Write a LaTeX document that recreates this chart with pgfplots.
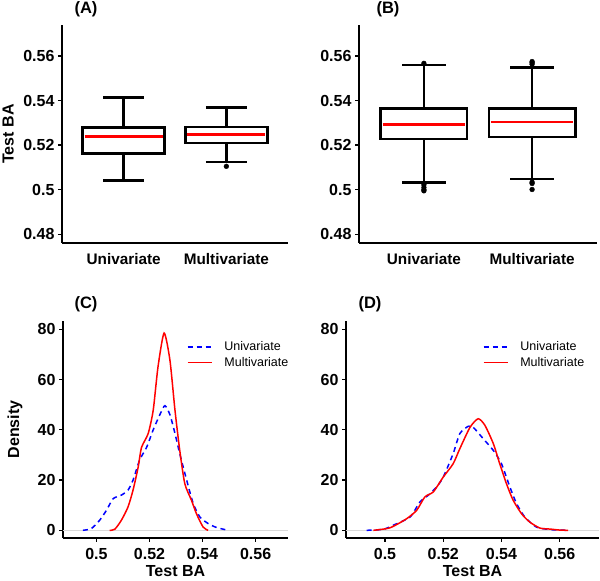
\documentclass[border=0pt]{standalone}
\usepackage{fontspec}
\setmainfont{Liberation Sans}
\usepackage{pgfplots}
\usepackage{pgfplotstable}
\pgfplotsset{compat=1.18}
\definecolor{zeroline}{RGB}{217,217,217}
\definecolor{ggblue}{RGB}{0,0,255}
\definecolor{ggred}{RGB}{255,0,0}

\pgfplotstableread{
x y
0.4949 0
0.4981 0.7
0.5012 4
0.5038 8
0.5063 12.6
0.5094 14
0.5119 16
0.5138 20
0.5163 28
0.5189 33
0.5214 40
0.5239 46
0.5258 49.6
0.5277 46
0.5295 39
0.5314 30.5
0.5340 20
0.5365 10.6
0.5390 5.3
0.5421 2.7
0.5453 1.1
0.5497 0
}\uniC
\pgfplotstableread{
x y
0.5050 0
0.5069 0.4
0.5094 4
0.5119 9.3
0.5138 16
0.5157 25
0.5170 33
0.5195 38.5
0.5214 47.8
0.5232 65
0.5255 78.5
0.5277 67.7
0.5296 47.8
0.5314 31.8
0.5333 18.6
0.5358 12
0.5377 6.6
0.5402 1.3
0.5421 0
}\mulC
\pgfplotstableread{
x y
0.4937 0
0.4994 0.4
0.5028 2
0.5086 5.3
0.5120 11.3
0.5149 14
0.5177 17.2
0.5200 21.2
0.5234 30.5
0.5257 38.5
0.5286 41.4
0.5303 41
0.5337 36.5
0.5372 31.8
0.5400 26.5
0.5429 17.2
0.5452 10.6
0.5480 5.3
0.5520 1.3
0.5566 0.3
0.5623 0
}\uniD
\pgfplotstableread{
x y
0.4960 0
0.5017 1
0.5074 4.6
0.5109 8
0.5137 13.3
0.5166 15.3
0.5200 21.2
0.5234 26.5
0.5257 32.5
0.5292 41
0.5320 44.4
0.5343 41.8
0.5372 34.5
0.5394 26.5
0.5417 18.6
0.5440 12
0.5469 6.6
0.5497 3.3
0.5532 0.9
0.5566 0.5
0.5600 0.1
0.5629 0
}\mulD

\pgfplotsset{
  common/.style={
    scale only axis,
    anchor=south west,
    axis lines*=left,
    axis line style={line width=1.8pt, black},
    tick align=outside,
    major tick length=4pt,
    tick style={line width=1.3pt, black},
    every tick label/.append style={font=\bfseries\fontsize{16}{18}\selectfont, text=black},
    /pgf/number format/assume math mode=true,
    scaled ticks=false,
    label style={font=\bfseries\fontsize{16}{18}\selectfont},
    clip=false,
  },
  boxax/.style={common, xmin=0.4, xmax=2.6, ymin=0.4761, ymax=0.5739,
    xtick={1,2}, xticklabels={Univariate,Multivariate},
    x tick style={draw=none},
    xticklabel style={font=\bfseries\fontsize{15.3}{17}\selectfont, yshift=-3pt},
    ytick={0.48,0.5,0.52,0.54,0.56}, yticklabels={0.48,0.5,0.52,0.54,0.56},
  },
  densax/.style={common, ymin=-3.06, ymax=83.3,
    xtick={0.5,0.52,0.54,0.56}, xticklabels={0.5,0.52,0.54,0.56},
    xticklabel style={yshift=-3pt},
    ytick={0,20,40,60,80},
    xlabel={Test BA},
    xlabel style={yshift=1pt},
    legend style={draw=none, fill=none, font=\fontsize{12.5}{14}\selectfont,
      row sep=3pt, inner sep=0pt, nodes={inner sep=1pt}},
    legend cell align=left,
    legend image code/.code={\draw[line width=1.5pt, ##1] (0pt,0pt) -- (24pt,0pt); \path (35pt,0pt);},
  },
  boxline/.style={black, line width=2.6pt, line cap=butt, line join=miter, no marks},
  medline/.style={ggred, line width=2.6pt, line cap=butt, no marks},
  unistyle/.style={ggblue, line width=1.5pt, dash pattern=on 5pt off 4pt, no marks, smooth, tension=0.4},
  mulstyle/.style={ggred, line width=1.5pt, no marks, smooth, tension=0.4},
  outl/.style={only marks, mark=*, mark size=2.4pt, black},
}

\begin{document}
\begin{tikzpicture}
\path[use as bounding box] (0pt,0pt) rectangle (600pt,581pt);

% ---------- (A) ----------
\begin{axis}[boxax, at={(62pt,338pt)}, width=226pt, height=218pt,
  ylabel={Test BA},
  ylabel style={at={(axis description cs:-0.238,0.5)}, anchor=center}]
% Univariate: lw 0.5042, q1 0.5163, med 0.5240, q3 0.5278, uw 0.5415
\addplot[boxline] coordinates {(1,0.5042) (1,0.5163)};
\addplot[boxline] coordinates {(1,0.5278) (1,0.5415)};
\addplot[boxline] coordinates {(0.8,0.5042) (1.2,0.5042)};
\addplot[boxline] coordinates {(0.8,0.5415) (1.2,0.5415)};
\addplot[boxline] coordinates {(1,0.5163) (1.4,0.5163) (1.4,0.5278) (0.6,0.5278) (0.6,0.5163) (1,0.5163)};
\addplot[medline] coordinates {(0.62,0.5240) (1.38,0.5240)};
% Multivariate: lw 0.5125, q1 0.5210, med 0.5249, q3 0.5281, uw 0.5369
\addplot[boxline] coordinates {(2,0.5125) (2,0.5210)};
\addplot[boxline] coordinates {(2,0.5281) (2,0.5369)};
\addplot[boxline] coordinates {(1.8,0.5125) (2.2,0.5125)};
\addplot[boxline] coordinates {(1.8,0.5369) (2.2,0.5369)};
\addplot[boxline] coordinates {(2,0.5210) (2.4,0.5210) (2.4,0.5281) (1.6,0.5281) (1.6,0.5210) (2,0.5210)};
\addplot[medline] coordinates {(1.62,0.5249) (2.38,0.5249)};
\addplot[outl] coordinates {(2,0.5105)};
\end{axis}
\node[anchor=west, font=\bfseries\fontsize{16.5}{18}\selectfont] at (71pt,572pt) {(A)};

% ---------- (B) ----------
\begin{axis}[boxax, at={(359pt,338pt)}, width=238pt, height=218pt]
% Univariate: lw 0.5033, q1 0.5228, med 0.5293, q3 0.5364, uw 0.5560
\addplot[boxline] coordinates {(1,0.5033) (1,0.5228)};
\addplot[boxline] coordinates {(1,0.5364) (1,0.5560)};
\addplot[boxline] coordinates {(0.8,0.5033) (1.2,0.5033)};
\addplot[boxline] coordinates {(0.8,0.5560) (1.2,0.5560)};
\addplot[boxline] coordinates {(1,0.5228) (1.4,0.5228) (1.4,0.5364) (0.6,0.5364) (0.6,0.5228) (1,0.5228)};
\addplot[medline] coordinates {(0.62,0.5293) (1.38,0.5293)};
% Multivariate: lw 0.5048, q1 0.5236, med 0.5303, q3 0.5364, uw 0.5548
\addplot[boxline] coordinates {(2,0.5048) (2,0.5236)};
\addplot[boxline] coordinates {(2,0.5364) (2,0.5548)};
\addplot[boxline] coordinates {(1.8,0.5048) (2.2,0.5048)};
\addplot[boxline] coordinates {(1.8,0.5548) (2.2,0.5548)};
\addplot[boxline] coordinates {(2,0.5236) (2.4,0.5236) (2.4,0.5364) (1.6,0.5364) (1.6,0.5236) (2,0.5236)};
\addplot[medline] coordinates {(1.62,0.5303) (2.38,0.5303)};
\addplot[outl] coordinates {(1,0.5022) (1,0.5010) (1,0.5000) (1,0.4995) (1,0.5567)
  (2,0.5034) (2,0.5028) (2,0.5001) (2,0.5563) (2,0.5570) (2,0.5575)};
\end{axis}
\node[anchor=west, font=\bfseries\fontsize{16.5}{18}\selectfont] at (373pt,572pt) {(B)};

% ---------- (C) ----------
\begin{axis}[densax, at={(63pt,43pt)}, width=225pt, height=217pt,
  xmin=0.4874, xmax=0.5722,
  ylabel={Density},
  ylabel style={at={(axis description cs:-0.213,0.5)}, anchor=center},
  legend style={at={(axis description cs:0.55,0.91)}, anchor=north west}]
\addplot[zeroline, line width=0.8pt, forget plot] coordinates {(0.4874,0) (0.5722,0)};
\addplot[unistyle] table[x=x,y=y] {\uniC};
\addlegendentry{Univariate}
\addplot[mulstyle] table[x=x,y=y] {\mulC};
\addlegendentry{Multivariate}
\end{axis}
\node[anchor=west, font=\bfseries\fontsize{16.5}{18}\selectfont] at (71pt,277pt) {(C)};

% ---------- (D) ----------
\begin{axis}[densax, at={(346pt,43pt)}, width=253pt, height=217pt,
  xmin=0.4866, xmax=0.5735,
  legend style={at={(axis description cs:0.54,0.91)}, anchor=north west}]
\addplot[zeroline, line width=0.8pt, forget plot] coordinates {(0.4866,0) (0.5735,0)};
\addplot[unistyle] table[x=x,y=y] {\uniD};
\addlegendentry{Univariate}
\addplot[mulstyle] table[x=x,y=y] {\mulD};
\addlegendentry{Multivariate}
\end{axis}
\node[anchor=west, font=\bfseries\fontsize{16.5}{18}\selectfont] at (355pt,277pt) {(D)};
\end{tikzpicture}
\end{document}
